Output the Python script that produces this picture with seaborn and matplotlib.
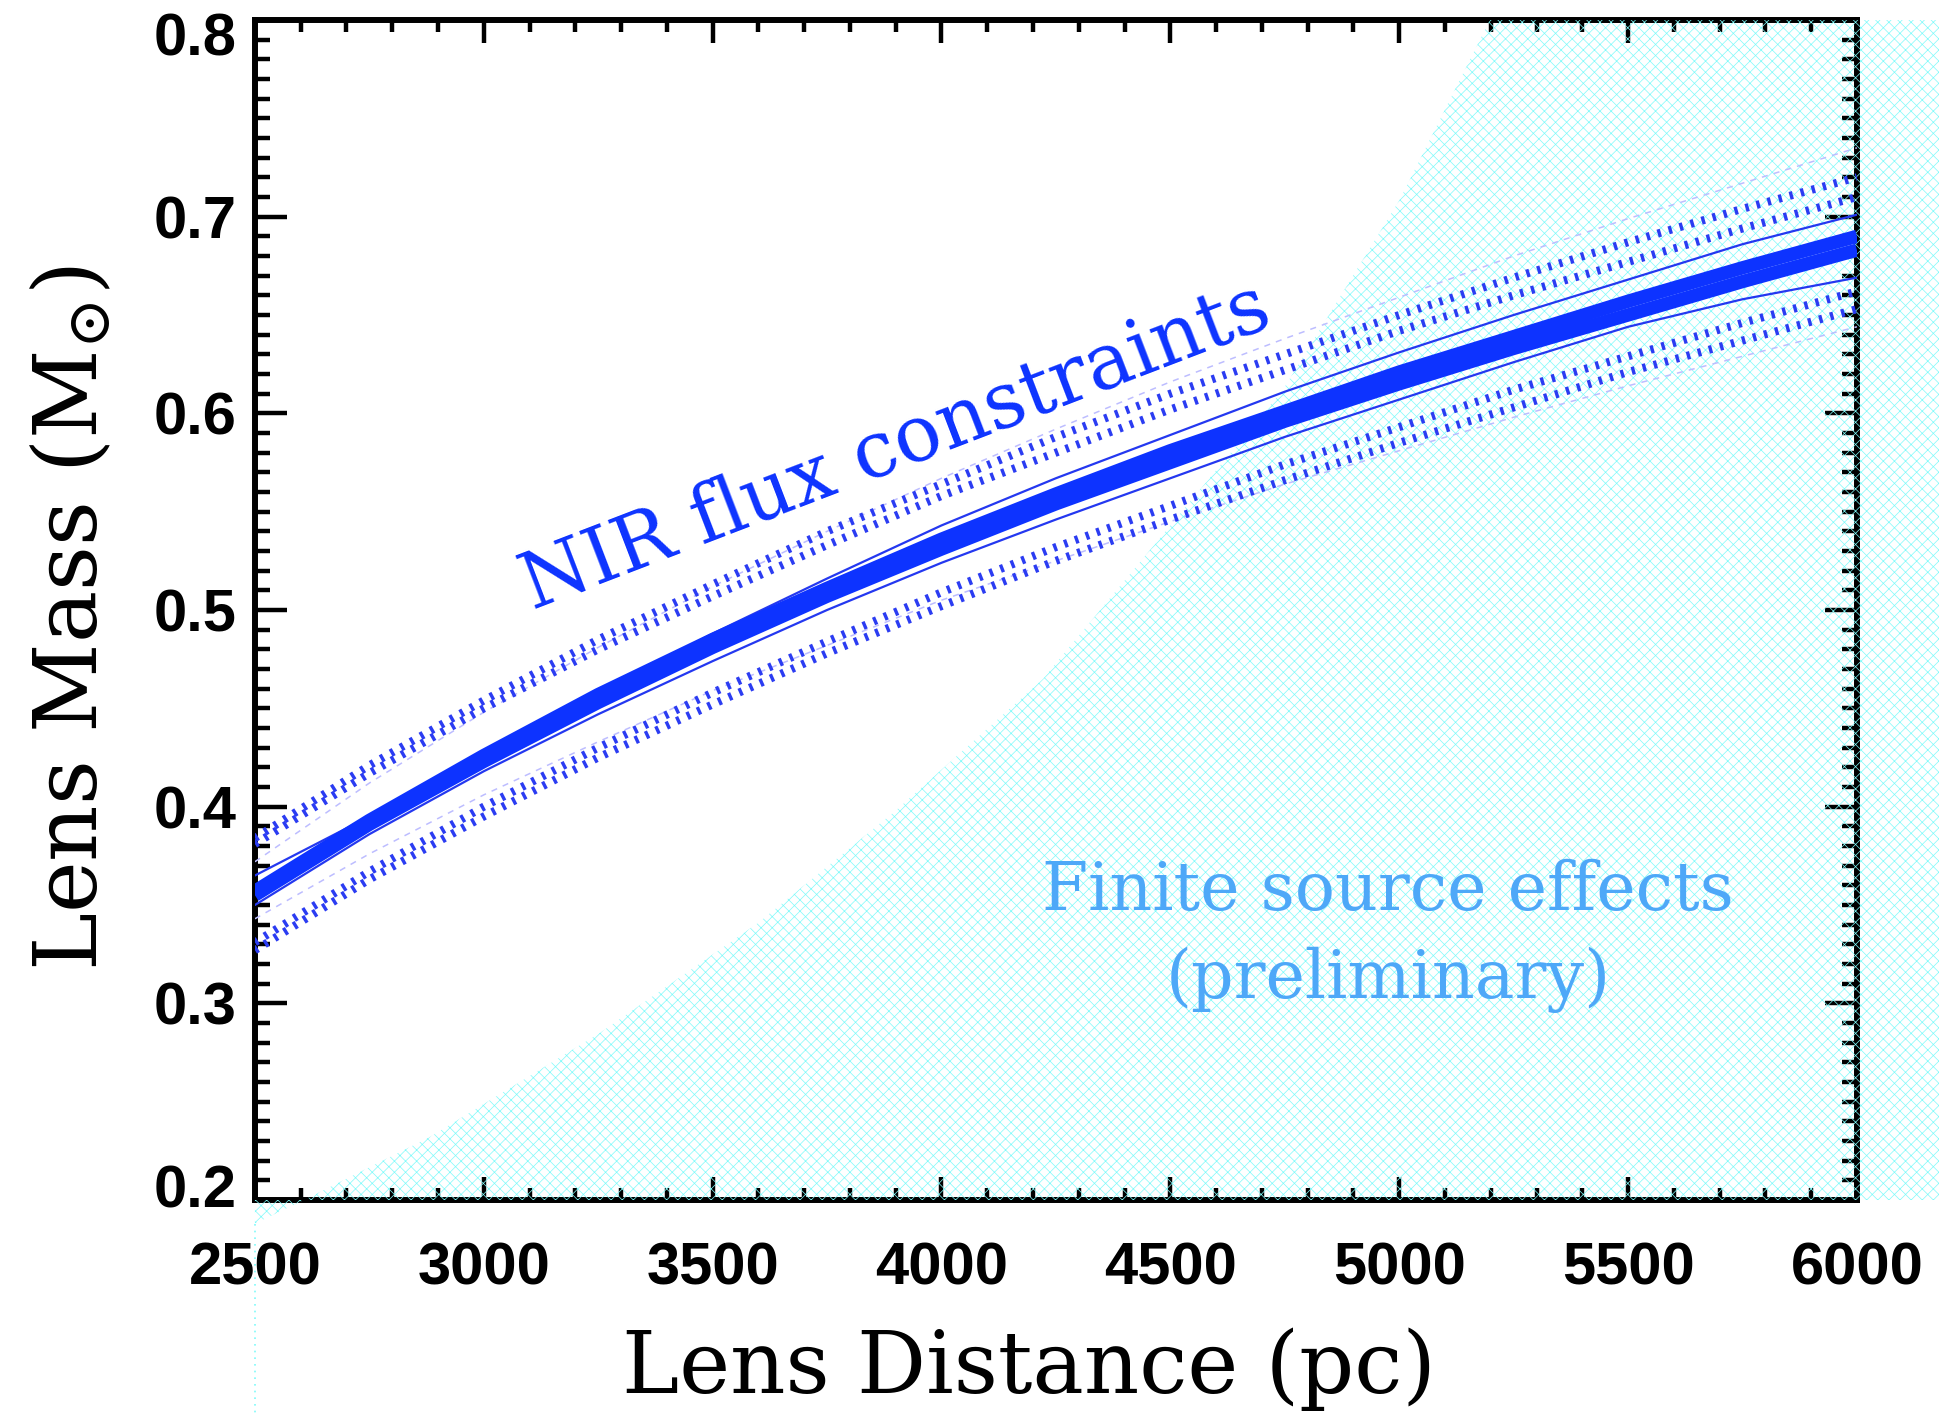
import matplotlib
matplotlib.use("Agg")
import matplotlib.pyplot as plt
from matplotlib.ticker import MultipleLocator, FormatStrFormatter
from matplotlib.transforms import ScaledTranslation
import pandas as pd
import seaborn as sns

# Lens distance grid (pc) on which the NIR mass-distance curves are sampled
distance_pc = [2500, 2750, 3000, 3250, 3500, 3750, 4000, 4250,
               4500, 4750, 5000, 5250, 5500, 5750, 6000]

# NIR flux constraint: central (thick) pair
mass_core_upper = [0.357, 0.393, 0.426, 0.457, 0.485, 0.511, 0.536, 0.559,
                   0.581, 0.601, 0.621, 0.639, 0.657, 0.674, 0.690]
mass_core_lower = [0.355, 0.391, 0.423, 0.453, 0.481, 0.507, 0.531, 0.554,
                   0.575, 0.596, 0.615, 0.633, 0.650, 0.667, 0.683]
# thin solid curves hugging the central pair
mass_thin_upper = [0.365, 0.395, 0.427, 0.458, 0.488, 0.516, 0.543, 0.567,
                   0.589, 0.611, 0.631, 0.650, 0.668, 0.686, 0.701]
mass_thin_lower = [0.350, 0.386, 0.418, 0.447, 0.474, 0.500, 0.524, 0.546,
                   0.567, 0.588, 0.607, 0.626, 0.644, 0.658, 0.669]
# dotted curves
mass_dot_upper_outer = [0.384, 0.421, 0.454, 0.485, 0.513, 0.540, 0.564, 0.588,
                        0.610, 0.630, 0.650, 0.669, 0.687, 0.704, 0.720]
mass_dot_upper_inner = [0.381, 0.417, 0.450, 0.480, 0.507, 0.533, 0.558, 0.580,
                        0.602, 0.622, 0.642, 0.660, 0.677, 0.694, 0.710]
mass_dot_lower_inner = [0.331, 0.367, 0.400, 0.430, 0.458, 0.484, 0.509, 0.532,
                        0.553, 0.574, 0.593, 0.612, 0.629, 0.646, 0.662]
mass_dot_lower_outer = [0.327, 0.363, 0.395, 0.425, 0.452, 0.478, 0.502, 0.525,
                        0.546, 0.566, 0.585, 0.603, 0.621, 0.637, 0.653]
# faint dashed curves
mass_faint_upper = [0.372, 0.412, 0.448, 0.481, 0.512, 0.540, 0.567, 0.592,
                    0.616, 0.638, 0.659, 0.680, 0.699, 0.717, 0.735]
mass_faint_lower = [0.343, 0.376, 0.406, 0.433, 0.459, 0.482, 0.505, 0.525,
                    0.545, 0.564, 0.581, 0.598, 0.614, 0.629, 0.644]

# Finite-source boundary (lens distance in pc, lens mass in Msun)
fs_distance_pc = [2500, 2607, 2882, 3254, 3600, 3900, 4222, 4500, 4746, 5002, 5198]
fs_mass = [0.188, 0.200, 0.232, 0.285, 0.341, 0.398, 0.465, 0.543, 0.612, 0.709, 0.800]
fs_tail_mass = [0.188, 0.090]

x_ticks = [2500, 3000, 3500, 4000, 4500, 5000, 5500, 6000]
y_ticks = [0.2, 0.3, 0.4, 0.5, 0.6, 0.7, 0.8]

sns.set_theme(style="ticks")
plt.rcParams["font.family"] = ["Liberation Sans", "DejaVu Sans"]
plt.rcParams["mathtext.fontset"] = "dejavuserif"
plt.rcParams["hatch.linewidth"] = 0.5

NIR_BLUE = "#0d33ff"
DOT_BLUE = "#2b3cf2"
FAINT = "#bdbdff"
FS_CYAN = "#7ffafa"
FS_TEXT = "#4ea8f8"

fig = plt.figure(figsize=(19.4, 14.27), dpi=100)
ax = fig.add_axes([0.1314, 1 - 1200 / 1427, (1857 - 255) / 1940, (1200 - 20) / 1427])
ax.set_xlim(2500, 6000)
ax.set_ylim(0.2, 0.8)

# finite-source region: right of the boundary, spilling past the frame
poly_x = fs_distance_pc + [6900, 6900, 2500]
poly_y = fs_mass + [0.8, 0.2, 0.2]
ax.fill(poly_x, poly_y, facecolor="none", edgecolor=FS_CYAN, hatch="xxx",
        linewidth=0, clip_on=False, zorder=2.6)
ax.plot([fs_distance_pc[0]] * 2, fs_tail_mass, color=FS_CYAN, lw=1.2,
        ls=(0, (1, 3)), clip_on=False, zorder=2.6)


def curve(values, **kw):
    df = pd.DataFrame({"D": distance_pc, "M": values})
    sns.lineplot(data=df, x="D", y="M", ax=ax, estimator=None, sort=False,
                 legend=False, **kw)


for vals in (mass_faint_upper, mass_faint_lower):
    curve(vals, color=FAINT, lw=1.1, linestyle=(0, (4, 4)), zorder=3)
for vals in (mass_dot_upper_outer, mass_dot_upper_inner,
             mass_dot_lower_inner, mass_dot_lower_outer):
    curve(vals, color=DOT_BLUE, lw=5.8, linestyle=(0, (0.42, 1.0)), zorder=3.2)
for vals in (mass_thin_upper, mass_thin_lower):
    curve(vals, color="#2438f0", lw=1.6, zorder=3.4)
for vals in (mass_core_upper, mass_core_lower):
    curve(vals, color=NIR_BLUE, lw=9.6, solid_capstyle="butt", zorder=3.6)

# axes frame and ticks
for s in ax.spines.values():
    s.set_linewidth(4.3)
    s.set_color("black")
ax.set_xticks(x_ticks)
ax.set_yticks(y_ticks)
ax.xaxis.set_minor_locator(MultipleLocator(100))
ax.yaxis.set_minor_locator(MultipleLocator(0.01))
ax.yaxis.set_major_formatter(FormatStrFormatter("%.1f"))
ax.tick_params(which="both", direction="in", top=True, right=True,
               width=3.2, color="black", labelcolor="black")
ax.tick_params(axis="x", which="major", length=16.5, pad=30)
ax.tick_params(axis="x", which="minor", length=8.5)
ax.tick_params(axis="y", which="major", length=23, pad=13)
ax.tick_params(axis="y", which="minor", length=10.5)
for lab in ax.get_xticklabels() + ax.get_yticklabels():
    lab.set_fontsize(43)
    lab.set_fontweight("bold")
    lab.set_family(["Liberation Sans", "DejaVu Sans"])
ytl = ax.yaxis.get_major_ticks()
lab_lo, lab_hi = ytl[0].label1, ytl[-1].label1
lab_lo.set_transform(lab_lo.get_transform() + ScaledTranslation(0, 10 / 72, fig.dpi_scale_trans))
lab_hi.set_transform(lab_hi.get_transform() + ScaledTranslation(0, -10 / 72, fig.dpi_scale_trans))

ax.set_xlabel("Lens Distance (pc)", fontsize=62, family="DejaVu Serif", color="black")
ax.set_ylabel(r"Lens Mass (M$_{\odot}$)", fontsize=63, family="DejaVu Serif", color="black")
ax.xaxis.set_label_coords(0.483, -0.108)
ax.yaxis.set_label_coords(-0.087, 0.493)

ax.text(3900, 0.583, "NIR flux constraints", color=NIR_BLUE, fontsize=56,
        family="DejaVu Serif", rotation=21, rotation_mode="anchor",
        ha="center", va="center", zorder=5)
ax.text(4976, 0.357, "Finite source effects", color=FS_TEXT, fontsize=48,
        family="DejaVu Serif", ha="center", va="center", zorder=5)
ax.text(4976, 0.312, "(preliminary)", color=FS_TEXT, fontsize=48,
        family="DejaVu Serif", ha="center", va="center", zorder=5)

fig.savefig("out.png", dpi=100)
